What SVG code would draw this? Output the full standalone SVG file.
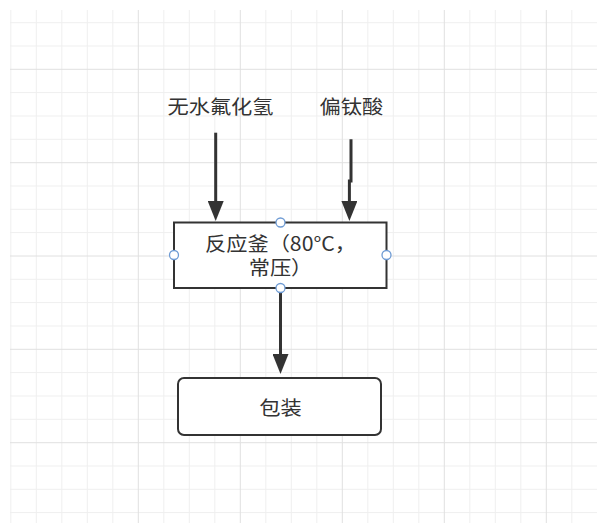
<svg xmlns="http://www.w3.org/2000/svg" width="597" height="523" viewBox="0 0 597 523">
  <style>
    .minor { stroke: #efefef; stroke-width: 1; fill: none; }
    .major { stroke: #e0e0e0; stroke-width: 1; fill: none; }
    .box { fill: #ffffff; stroke: #333333; stroke-width: 2; }
    .edge { stroke: #333333; stroke-width: 3; fill: none; }
    .port { fill: #ffffff; stroke: #6e9bd4; stroke-width: 1.3; }
    .lbl { font-family: "Microsoft YaHei", "Noto Sans CJK SC", "Noto Sans", sans-serif; font-size: 19.5px; fill: #333333; text-anchor: middle; }
  </style>
  <defs>
    <marker id="arrow" markerWidth="20" markerHeight="16" refX="0" refY="8" orient="auto" markerUnits="userSpaceOnUse" viewBox="0 0 20 16">
      <path d="M0,0 L20,8 L0,16 Z" fill="#333333"/>
    </marker>
  </defs>
  <rect x="0" y="0" width="597" height="523" fill="#ffffff"/>
  <g id="grid">
    <path class="minor" d="M10.8,10V523 M36.3,10V523 M61.8,10V523 M87.3,10V523 M112.8,10V523 M163.8,10V523 M189.3,10V523 M214.8,10V523 M265.8,10V523 M291.3,10V523 M316.8,10V523 M367.8,10V523 M393.3,10V523 M418.8,10V523 M469.8,10V523 M495.3,10V523 M520.8,10V523 M571.8,10V523 M10,22.7H597 M10,46H597 M10,92.6H597 M10,116H597 M10,139.3H597 M10,186H597 M10,209.3H597 M10,232.6H597 M10,279.3H597 M10,302.6H597 M10,326H597 M10,372.6H597 M10,396H597 M10,419.3H597 M10,466H597 M10,489.3H597 M10,512.6H597"/>
    <path class="major" d="M138.3,10V523 M240.3,10V523 M342.3,10V523 M444.3,10V523 M546.3,10V523 M10,69.3H597 M10,162.7H597 M10,256H597 M10,349.3H597 M10,442.7H597"/>
  </g>
  <g id="connectors">
    <path class="edge" d="M215.7,132.7 V201" marker-end="url(#arrow)"/>
    <path class="edge" d="M351,139.3 V181 H349.4 V201" marker-end="url(#arrow)"/>
    <path class="edge" d="M280.5,288 V354" marker-end="url(#arrow)"/>
  </g>
  <g id="label-hf">
    <text class="lbl" transform="translate(220.5,113.5) scale(1.09,1)">无水氟化氢</text>
  </g>
  <g id="label-metatitanic">
    <text class="lbl" transform="translate(351.3,114) scale(1.09,1)">偏钛酸</text>
  </g>
  <g id="reactor">
    <rect class="box" x="174" y="222.5" width="212.5" height="65.5"/>
    <text class="lbl" transform="translate(280.5,251) scale(1.09,1)"><tspan x="0" y="0">反应釜（80°C，</tspan><tspan x="0" y="24.5">常压）</tspan></text>
    <circle class="port" cx="280.5" cy="222.5" r="4.5"/>
    <circle class="port" cx="174" cy="255" r="4.5"/>
    <circle class="port" cx="386.5" cy="255" r="4.5"/>
    <circle class="port" cx="280.5" cy="288" r="4.5"/>
  </g>
  <g id="packaging">
    <rect class="box" x="178" y="378" width="203" height="57" rx="6" ry="6"/>
    <text class="lbl" transform="translate(280.5,414.5) scale(1.09,1)">包装</text>
  </g>
</svg>
